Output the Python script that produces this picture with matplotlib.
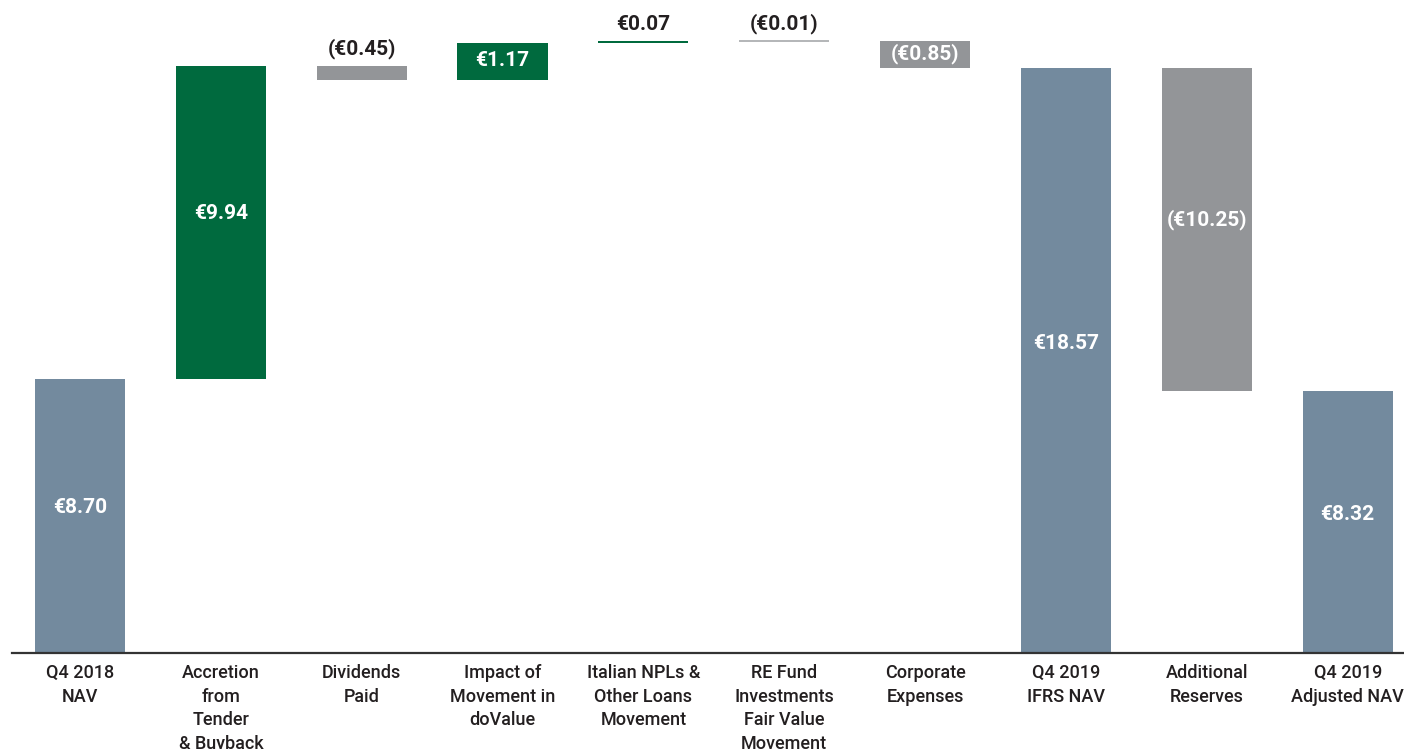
import matplotlib.pyplot as plt

plt.rcParams['font.family'] = ['Roboto', 'DejaVu Sans']

categories = ['Q4 2018\nNAV', 'Accretion\nfrom\nTender\n& Buyback', 'Dividends\nPaid',
              'Impact of\nMovement in\ndoValue', 'Italian NPLs &\nOther Loans\nMovement',
              'RE Fund\nInvestments\nFair Value\nMovement', 'Corporate\nExpenses',
              'Q4 2019\nIFRS NAV', 'Additional\nReserves', 'Q4 2019\nAdjusted NAV']
changes = [8.70, 9.94, -0.45, 1.17, 0.07, -0.01, -0.85, 18.57, -10.25, 8.32]
labels = ['€8.70', '€9.94', '(€0.45)', '€1.17', '€0.07', '(€0.01)', '(€0.85)',
          '€18.57', '(€10.25)', '€8.32']
totals = [0, 7, 9]  # bars that start from zero

slate = '#738a9e'
green = '#006a3e'
grey = '#939598'
dark = '#231f20'

# waterfall bottoms / heights
bottoms, heights = [], []
run = 0
for i, v in enumerate(changes):
    if i in totals:
        bottoms.append(0)
        heights.append(v)
        run = v
    else:
        if v >= 0:
            bottoms.append(run)
        else:
            bottoms.append(run + v)
        heights.append(abs(v))
        run = run + v

colors = []
for i, v in enumerate(changes):
    if i in totals:
        colors.append(slate)
    elif v >= 0:
        colors.append(green)
    else:
        colors.append(grey)
colors[5] = '#a7a9ab'

fig = plt.figure(figsize=(14.04, 7.49), dpi=100)
ax = fig.add_axes([0.0085, 0.128, 0.9915, 0.872])

x = list(range(len(changes)))
ax.bar(x, heights, bottom=bottoms, width=0.64, color=colors, linewidth=0)
# hairline bar for the tiny RE fund move
ax.bar(x[5], heights[5], bottom=bottoms[5], width=0.64, color=colors[5],
       edgecolor=colors[5], linewidth=1.2)

small = [2, 4, 5]  # labels above the bar
for i in x:
    if i in small:
        ax.text(i, bottoms[i] + heights[i] + 0.22, labels[i], ha='center', va='bottom',
                color=dark, fontsize=15, fontweight='bold')
    else:
        ax.text(i, bottoms[i] + heights[i] * 0.53, labels[i], ha='center', va='center',
                color='white', fontsize=15, fontweight='bold')

ax.set_xlim(-0.483, 9.40)
ax.set_ylim(0, 20.73)
ax.set_xticks(x)
ax.set_xticklabels(categories, fontsize=13, color=dark, linespacing=1.4,
                   fontweight='medium')
ax.tick_params(axis='x', length=0, pad=8)
ax.set_yticks([])
for s in ['top', 'right', 'left']:
    ax.spines[s].set_visible(False)
ax.spines['bottom'].set_color('#333333')
ax.spines['bottom'].set_linewidth(1.6)

plt.savefig('out.png', dpi=100)
